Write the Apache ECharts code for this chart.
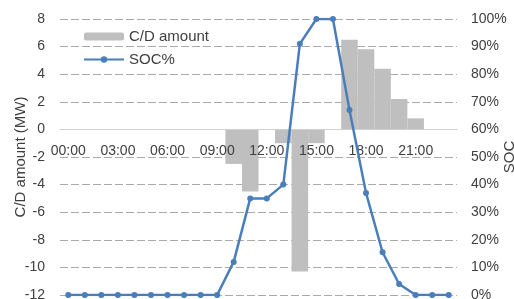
<!DOCTYPE html>
<html>
<head>
<meta charset="utf-8">
<script src="https://cdn.jsdelivr.net/npm/echarts@6/dist/echarts.min.js"></script>
<style>
  html, body { margin: 0; padding: 0; background: #fff; }
  #chart { width: 514px; height: 299px; }
</style>
</head>
<body>
<div id="chart"></div>
<script>
// hourly categories
var hours = ['00:00','01:00','02:00','03:00','04:00','05:00','06:00','07:00','08:00','09:00','10:00','11:00',
             '12:00','13:00','14:00','15:00','16:00','17:00','18:00','19:00','20:00','21:00','22:00','23:00'];
// charge / discharge amount (MW), left axis
var cdAmount = [0,0,0,0,0,0,0,0,0,0,-2.5,-4.5,0,-1,-10.3,-1,0,6.5,5.8,4.4,2.2,0.8,0,0];
// state of charge (%), right axis
var socPct = [0,0,0,0,0,0,0,0,0,0,12,35,35,40,91,100,100,67,37,15.5,4,0,0,0];

var font = '"Liberation Sans", Arial, sans-serif';
var textColor = '#404040';
var axisColor = '#d0d0d0';

var chart = echarts.init(document.getElementById('chart'));

var option = {
    animation: false,
    textStyle: { fontFamily: font },
    grid: { left: 60, right: 57, top: 19, bottom: 4, containLabel: false, outerBoundsMode: 'none' },
    legend: {
        orient: 'vertical',
        left: 78,
        top: 24,
        itemWidth: 40,
        itemHeight: 8,
        itemGap: 8,
        textStyle: { fontSize: 15, color: textColor, fontFamily: font },
        data: ['C/D amount', 'SOC%']
    },
    xAxis: {
        type: 'category',
        data: hours,
        axisLine: { onZero: true, onZeroAxisIndex: 0, lineStyle: { color: axisColor, width: 1 } },
        axisTick: { show: false },
        // labels sit under the zero line, as in the original
        axisLabel: { interval: 2, margin: -151, fontSize: 14, color: textColor, fontFamily: font },
        splitLine: { show: false },
        z: 3
    },
    yAxis: [{
        type: 'value',
        min: -12, max: 8, interval: 2,
        name: 'C/D amount (MW)',
        nameLocation: 'middle',
        nameGap: 32,
        nameMoveOverlap: false,
        nameTextStyle: { fontSize: 15, color: textColor, fontFamily: font },
        axisLine: { show: false },
        axisTick: { show: false },
        axisLabel: { margin: 15, fontSize: 14, color: textColor, fontFamily: font },
        splitLine: { show: true, lineStyle: { color: '#aaaaaa', type: [8, 3], width: 1 } }
    }, {
        type: 'value',
        min: 0, max: 100, interval: 10,
        name: 'SOC',
        nameLocation: 'middle',
        nameGap: 45,
        nameRotate: 90,
        nameMoveOverlap: false,
        nameTextStyle: { fontSize: 15, color: textColor, fontFamily: font },
        axisLine: { show: false },
        axisTick: { show: false },
        axisLabel: { margin: 14, fontSize: 14, color: textColor, fontFamily: font, formatter: '{value}%' },
        splitLine: { show: false }
    }],
    series: [{
        name: 'C/D amount',
        type: 'bar',
        yAxisIndex: 0,
        data: cdAmount,
        barCategoryGap: '0%',
        itemStyle: { color: '#bfbfbf' }
    }, {
        name: 'SOC%',
        type: 'line',
        yAxisIndex: 1,
        data: socPct,
        symbol: 'circle',
        symbolSize: 6,
        lineStyle: { color: '#4a7ebb', width: 2.5 },
        itemStyle: { color: '#4a7ebb' }
    }]
};

chart.setOption(option);
</script>
</body>
</html>
